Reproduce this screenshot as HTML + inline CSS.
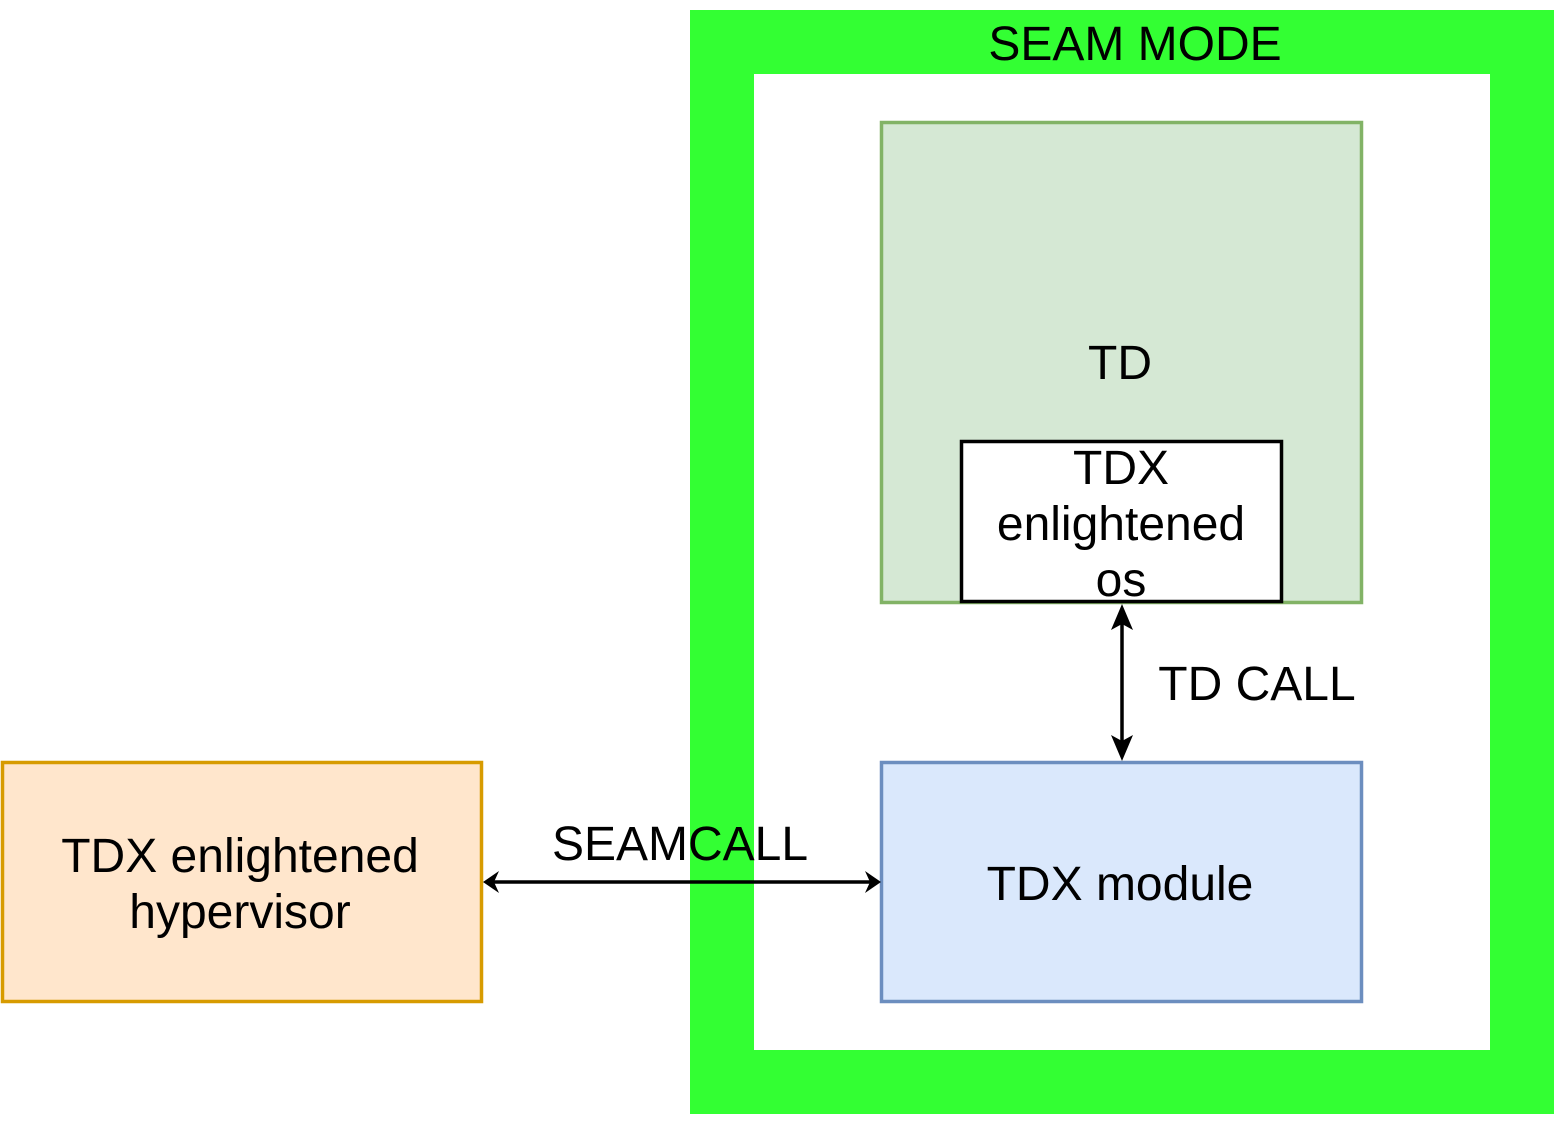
<!DOCTYPE html>
<html><head><meta charset="utf-8"><style>
body{margin:0;background:#fff;}
svg text{font-family:"Liberation Sans",Arial,sans-serif;font-size:48px;fill:#000;text-anchor:middle;}
</style></head><body>
<svg width="1556" height="1116" viewBox="0 0 1556 1116" xmlns="http://www.w3.org/2000/svg">
<rect x="690" y="10" width="864" height="1104" fill="#33ff33"/>
<rect x="754" y="74" width="736" height="976" fill="#fff"/>
<text x="1135" y="60">SEAM MODE</text>
<rect x="881.5" y="122.5" width="480" height="480" fill="#d5e8d4" stroke="#82b366" stroke-width="3.5"/>
<text x="1120" y="379">TD</text>
<rect x="961.5" y="441.5" width="320" height="160" fill="#fff" stroke="#000" stroke-width="3.5"/>
<text x="1121" y="484">TDX</text>
<text x="1121" y="540">enlightened</text>
<text x="1121" y="596">os</text>
<rect x="881.5" y="762.5" width="480" height="239" fill="#dae8fc" stroke="#6c8ebf" stroke-width="3.5"/>
<text x="1120" y="900">TDX module</text>
<rect x="2.5" y="762.5" width="479" height="239" fill="#ffe6cc" stroke="#d79b00" stroke-width="3.5"/>
<text x="240" y="872">TDX enlightened</text>
<text x="240" y="928">hypervisor</text>
<line x1="1122" y1="610" x2="1122" y2="754" stroke="#000" stroke-width="3.5"/>
<path d="M1122 604 L1133 630 L1122 624 L1111 630 Z" fill="#000"/>
<path d="M1122 761 L1133 735 L1122 741 L1111 735 Z" fill="#000"/>
<text x="1257" y="700">TD CALL</text>
<line x1="490" y1="882" x2="874" y2="882" stroke="#000" stroke-width="3.5"/>
<path d="M483 882 L499 871 L494 882 L499 893 Z" fill="#000"/>
<path d="M881 882 L865 871 L870 882 L865 893 Z" fill="#000"/>
<text x="680" y="860">SEAMCALL</text>
</svg>
</body></html>
